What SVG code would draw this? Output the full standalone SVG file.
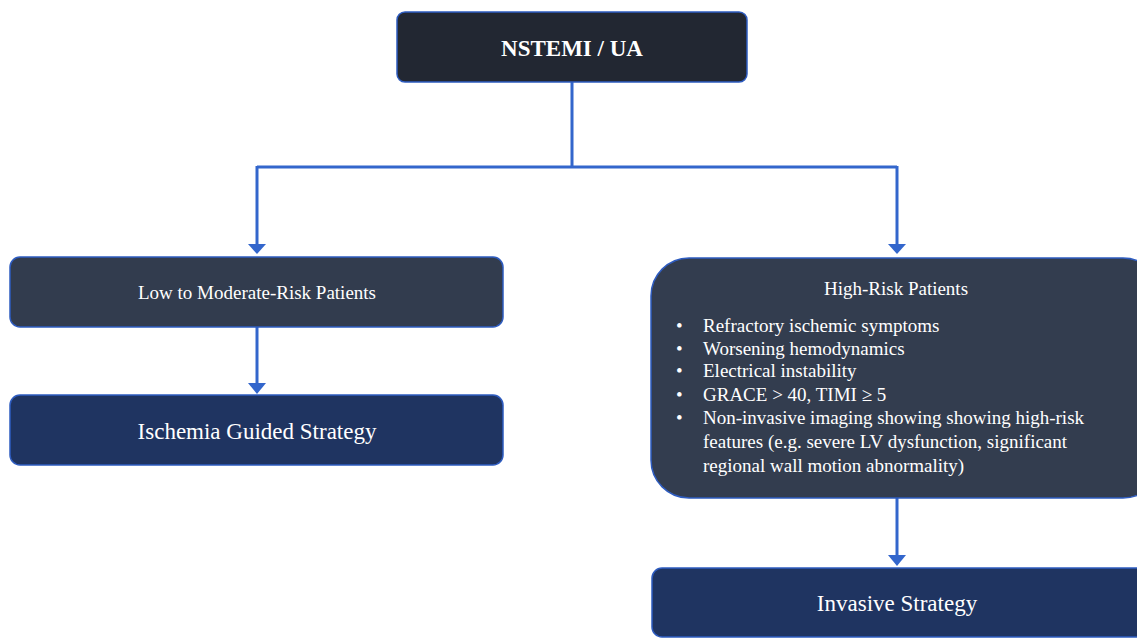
<svg xmlns="http://www.w3.org/2000/svg" width="1137" height="638" viewBox="0 0 1137 638">
<defs>
<style>
.box{stroke:#2e5cc0;stroke-width:1.5}
.t{font-family:"Liberation Serif","DejaVu Serif",serif;fill:#ffffff}
.c{fill:none;stroke:#3366cc;stroke-width:3}
</style>
</defs>
<rect width="1137" height="638" fill="#ffffff"/>
<g id="connectors">
<path class="c" d="M572,82 V167 M257,167 H897"/>
<path class="c" d="M257,166 V246"/>
<path d="M248,244 L266,244 L257,254 Z" fill="#3366cc"/>
<path class="c" d="M897,166 V246"/>
<path d="M888,244 L906,244 L897,254 Z" fill="#3366cc"/>
<path class="c" d="M257,327 V385"/>
<path d="M248,383 L266,383 L257,394 Z" fill="#3366cc"/>
<path class="c" d="M897,498 V556"/>
<path d="M888,555 L906,555 L897,566 Z" fill="#3366cc"/>
</g>
<g id="n-nstemi">
<rect class="box" x="397" y="12" width="350" height="70" rx="8" fill="#222732"/>
<text class="t" x="572" y="56" text-anchor="middle" font-size="23" font-weight="bold">NSTEMI / UA</text>
</g>
<g id="n-low">
<rect class="box" x="10" y="257" width="493" height="70" rx="10" fill="#323c4e"/>
<text class="t" x="257" y="299" text-anchor="middle" font-size="19">Low to Moderate-Risk Patients</text>
</g>
<g id="n-ischemia">
<rect class="box" x="10" y="395" width="493" height="70" rx="10" fill="#1f3461"/>
<text class="t" x="257" y="439" text-anchor="middle" font-size="23">Ischemia Guided Strategy</text>
</g>
<g id="n-high">
<rect class="box" x="651" y="258" width="510" height="240" rx="38" fill="#333d4f"/>
<text class="t" x="896" y="295" text-anchor="middle" font-size="19">High-Risk Patients</text>
<g class="t" font-size="19">
<text x="676" y="332">•</text><text x="703" y="332">Refractory ischemic symptoms</text>
<text x="676" y="355">•</text><text x="703" y="355">Worsening hemodynamics</text>
<text x="676" y="377">•</text><text x="703" y="377">Electrical instability</text>
<text x="676" y="401">•</text><text x="703" y="401">GRACE &gt; 40, TIMI ≥ 5</text>
<text x="676" y="424">•</text><text x="703" y="424">Non-invasive imaging showing showing high-risk</text>
<text x="703" y="448">features (e.g. severe LV dysfunction, significant</text>
<text x="703" y="472">regional wall motion abnormality)</text>
</g>
</g>
<g id="n-invasive">
<rect class="box" x="652" y="568" width="510" height="69" rx="10" fill="#1f3461"/>
<text class="t" x="897" y="611" text-anchor="middle" font-size="23">Invasive Strategy</text>
</g>
</svg>
